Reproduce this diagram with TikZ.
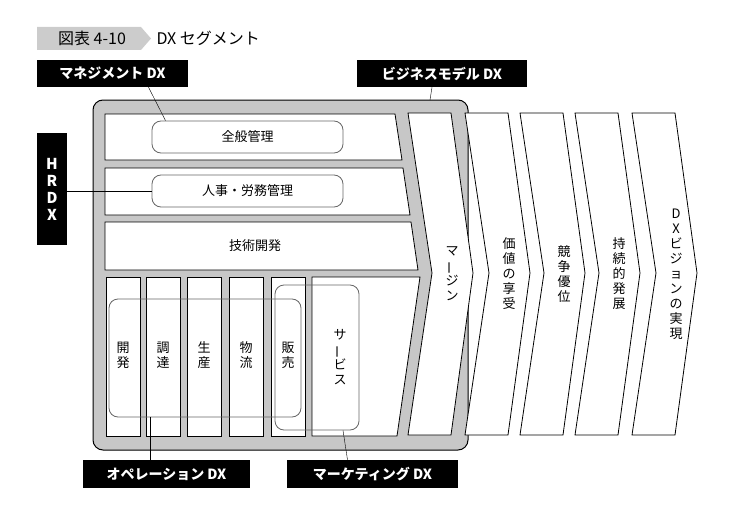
\documentclass[tikz,border=0pt]{standalone}
\usepackage{fontspec}
\setmainfont{Noto Sans CJK JP}
\usetikzlibrary{positioning}

\tikzset{
	tag/.style={fill=black, text=white, font=\fontsize{14}{16}\selectfont\bfseries, inner sep=0pt},
	pill/.style={draw=black!60, rounded corners=9pt, line width=0.8pt, inner sep=0pt},
	lane/.style={draw=black, fill=white, line width=0.8pt},
	vtext/.style={align=center, font=\fontsize{13}{15}\selectfont, inner sep=0pt}
}
\newcommand{\vchoon}{\rotatebox[origin=c]{90}{ー}}

\begin{document}
\begin{tikzpicture}[x=1pt,y=-1pt]
	\useasboundingbox (0,0) rectangle (739,527);
	% title
	\fill[black!20] (37,27) -- (141,27) -- (151,38.5) -- (141,50) -- (37,50) -- cycle;
	\node[font=\fontsize{16}{18}\selectfont] (fig) at (92,38.5) {図表 4-10};
	\node[font=\fontsize{16}{18}\selectfont, anchor=west] (title) at (153,38.5) {DX セグメント};
	% frame
	\draw[fill=black!22, line width=1pt, rounded corners=10pt] (93,100) rectangle (468,450);
	\coordinate (biztip) at (430,100);
	% rows
	\draw[lane] (105,114) -- (395,114) -- (402,160) -- (105,160) -- cycle;
	\draw[lane] (105,168) -- (403,168) -- (410,215) -- (105,215) -- cycle;
	\draw[lane] (105,222) -- (411,222) -- (418,270) -- (105,270) -- cycle;
	\node[font=\fontsize{13}{15}\selectfont] (tech) at (255,246) {技術開発};
	% columns
	\foreach \x in {106,146,187,229,271} {
		\draw[lane] (\x,277) rectangle ++(34,159);
	}
	\draw[lane] (312,277) -- (420,277) -- (397,436) -- (312,436) -- cycle;
	\begin{scope}[every node/.style={vtext}]
		\node (c1) at (123,355) {開\\発};
		\node (c2) at (163,355) {調\\達};
		\node (c3) at (204,355) {生\\産};
		\node (c4) at (246,355) {物\\流};
		\node (c5) at (288,355) {販\\売};
		\node (svc) at (340,357) {サ\\\vchoon\\ビ\\ス};
	\end{scope}
	% chevrons
	\foreach \x/\t in {408/{マ\\\vchoon\\ジ\\ン},465/{価\\値\\の\\享\\受},520/{競\\争\\優\\位},575/{持\\続\\的\\発\\展},632/{D\\X\\ビ\\ジ\\ョ\\ン\\の\\実\\現}} {
		\draw[lane] (\x,113) -- ++(43,0) -- ++(22,160) -- ++(-22,162) -- ++(-43,0) -- ++(24,-162) -- cycle;
		\node[vtext] (v\x) at (\x+44,274) {\t};
	}
	% pills
	\node[pill, minimum width=191pt, minimum height=32pt, font=\fontsize{13}{15}\selectfont] (zenpan) at (247.5,137) {全般管理};
	\node[pill, minimum width=191pt, minimum height=32pt, font=\fontsize{13}{15}\selectfont] (jinji) at (247.5,191) {人事・労務管理};
	\node[pill, minimum width=192pt, minimum height=118pt] (ops) at (205,358) {};
	\node[pill, minimum width=84pt, minimum height=145pt] (mkt) at (317,357.5) {};
	% tags
	\node[tag, minimum width=151pt, minimum height=27pt] (mgmt) at (112.5,73.5) {マネジメント DX};
	\node[tag, minimum width=170pt, minimum height=27pt] (biz) at (442,73.5) {ビジネスモデル DX};
	\node[tag, minimum width=30pt, minimum height=112pt, align=center, font=\fontsize{15}{17}\selectfont\bfseries] (hrdx) at (52,189) {H\\R\\D\\X};
	\node[tag, minimum width=167pt, minimum height=28pt] (opsdx) at (166.5,474) {オペレーション DX};
	\node[tag, minimum width=171pt, minimum height=28pt] (mktdx) at (372.5,474) {マーケティング DX};
	% leaders
	\draw ([xshift=36pt]mgmt.south) -- ([xshift=-82pt]zenpan.north);
	\draw ([xshift=-10pt]biz.south) -- (biztip);
	\draw (hrdx.east |- jinji.west) -- (jinji.west);
	\draw ([xshift=-55pt]ops.south) -- ([xshift=-55pt]ops.south |- opsdx.north);
	\draw ([xshift=26pt]mkt.south) -- ([xshift=-25pt]mktdx.north);
\end{tikzpicture}
\end{document}
